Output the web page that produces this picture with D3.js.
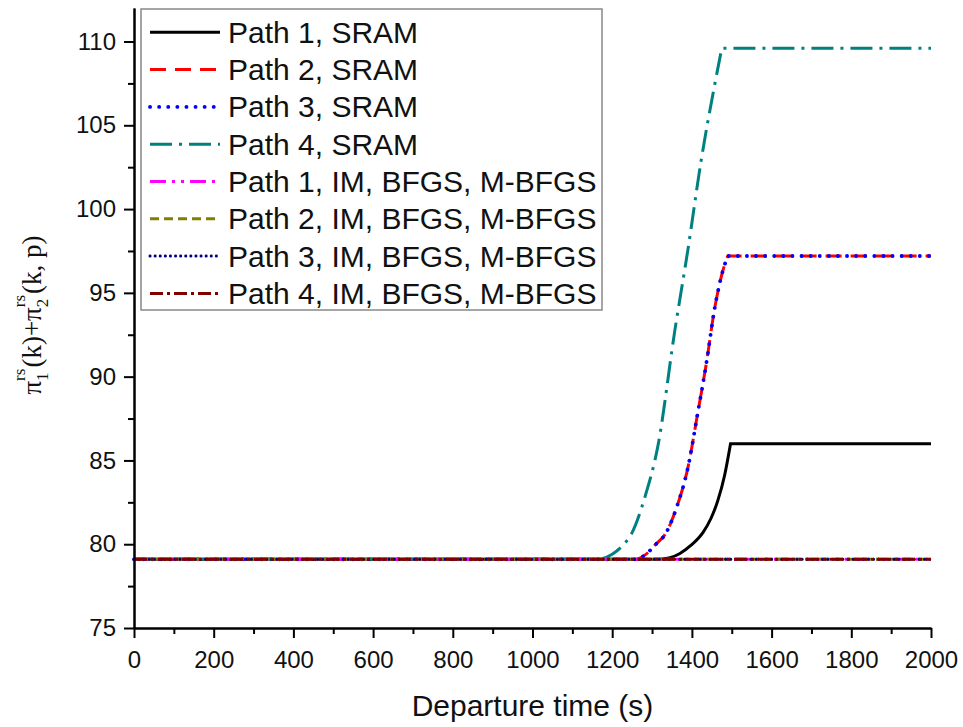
<!DOCTYPE html>
<html>
<head>
<meta charset="utf-8">
<script src="https://cdn.jsdelivr.net/npm/d3@7"></script>
<style>
  body { margin: 0; background: #fff; }
  svg { display: block; }
</style>
</head>
<body>
<div id="chart"></div>
<script>
// departure time (s) and path cost values
var path1Time = [0, 1310, 1345, 1370, 1398, 1428, 1448, 1465, 1482, 1497, 2000];
var path1Sram = [79.1, 79.1, 79.2, 79.45, 79.94, 80.71, 81.55, 82.6, 84.1, 86.0, 86.0];

var path2Time = [0, 1255, 1282, 1307, 1336, 1361, 1390, 1415, 1436, 1457, 1477, 1490, 2000];
var path2Sram = [79.1, 79.1, 79.35, 79.94, 80.71, 82.15, 84.57, 87.88, 90.75, 94.06, 96.26, 97.2, 97.2];
var path3Sram = [79.1, 79.1, 79.35, 79.94, 80.71, 82.15, 84.57, 87.88, 90.75, 94.06, 96.26, 97.2, 97.2];

var path4Time = [0, 1160, 1200, 1227, 1248, 1282, 1315, 1357, 1390, 1423, 1457, 1475, 2000];
var path4Sram = [79.1, 79.1, 79.4, 79.94, 80.6, 82.81, 85.9, 92.73, 97.58, 102.87, 107.4, 109.6, 109.6];

var imTime = [0, 2000];
var path1Im = [79.1, 79.1];
var path2Im = [79.1, 79.1];
var path3Im = [79.1, 79.1];
var path4Im = [79.1, 79.1];

var seriesNames = [
  "Path 1, SRAM", "Path 2, SRAM", "Path 3, SRAM", "Path 4, SRAM",
  "Path 1, IM, BFGS, M-BFGS", "Path 2, IM, BFGS, M-BFGS",
  "Path 3, IM, BFGS, M-BFGS", "Path 4, IM, BFGS, M-BFGS"
];
var xTicks = [0, 200, 400, 600, 800, 1000, 1200, 1400, 1600, 1800, 2000];
var yTicks = [75, 80, 85, 90, 95, 100, 105, 110];

var width = 963, height = 727;
var plotLeft = 134, plotRight = 931, plotTop = 8, plotBottom = 628;

var svg = d3.select("#chart")
  .append("svg")
    .attr("width", width)
    .attr("height", height);

var x = d3.scaleLinear().domain([0, 2000]).range([plotLeft, plotRight]);
var y = d3.scaleLinear().domain([75, 112]).range([plotBottom, plotTop]);

var styles = [
  {color: "#000000", dash: null, w: 3},
  {color: "#ff0000", dash: "16,9", w: 3},
  {color: "#0000ff", dash: "0.1,9", cap: "round", w: 3.8},
  {color: "#008080", dash: "22,7,3,7", w: 3},
  {color: "#ff00ff", dash: "16,6,3,6,3,6", w: 3},
  {color: "#808000", dash: "9,5", w: 3},
  {color: "#000080", dash: "0.1,5", cap: "round", w: 3},
  {color: "#800000", dash: "13,4,3,4", w: 3}
];

var series = [
  {t: path1Time, v: path1Sram},
  {t: path2Time, v: path2Sram},
  {t: path2Time, v: path3Sram},
  {t: path4Time, v: path4Sram},
  {t: imTime, v: path1Im},
  {t: imTime, v: path2Im},
  {t: imTime, v: path3Im},
  {t: imTime, v: path4Im}
];

var smooth = d3.line()
  .x(function(d) { return x(d[0]); })
  .y(function(d) { return y(d[1]); })
  .curve(d3.curveMonotoneX);

series.forEach(function(s, i) {
  var pts = s.t.map(function(t, j) { return [t, s.v[j]]; });
  var d;
  if (pts.length > 2) {
    // smooth rise up to the corner, then a straight plateau
    var last = pts[pts.length - 1];
    d = smooth(pts.slice(0, -1)) + "L" + x(last[0]) + "," + y(last[1]);
  } else {
    d = smooth(pts);
  }
  svg.append("path")
    .attr("d", d)
    .attr("fill", "none")
    .attr("stroke", styles[i].color)
    .attr("stroke-width", styles[i].w)
    .attr("stroke-linecap", styles[i].cap || "butt")
    .attr("stroke-dasharray", styles[i].dash);
});

// axes
svg.append("g")
  .attr("transform", "translate(0," + plotBottom + ")")
  .call(d3.axisBottom(x).tickValues(xTicks).tickFormat(d3.format("d"))
    .tickSize(10).tickPadding(13).tickSizeOuter(0));
svg.append("g")
  .attr("transform", "translate(0," + plotBottom + ")")
  .call(d3.axisBottom(x).tickValues(d3.range(100, 2000, 200)).tickSize(6).tickFormat("").tickSizeOuter(0));

svg.append("g")
  .attr("transform", "translate(" + plotLeft + ",0)")
  .call(d3.axisLeft(y).tickValues(yTicks).tickSize(10).tickPadding(8).tickSizeOuter(0));
svg.append("g")
  .attr("transform", "translate(" + plotLeft + ",0)")
  .call(d3.axisLeft(y).tickValues(d3.range(77.5, 112, 5)).tickSize(6).tickFormat("").tickSizeOuter(0));

svg.selectAll(".domain").attr("stroke", "#000").attr("stroke-width", 2);
svg.selectAll(".tick line").attr("stroke", "#000").attr("stroke-width", 2);
svg.selectAll(".tick text")
  .attr("font-family", "Liberation Sans, Arial, sans-serif")
  .attr("font-size", 24)
  .attr("fill", "#111");

// x title
svg.append("text")
  .attr("x", (plotLeft + plotRight) / 2)
  .attr("y", 716)
  .attr("text-anchor", "middle")
  .attr("font-family", "Liberation Sans, Arial, sans-serif")
  .attr("font-size", 30)
  .attr("fill", "#111")
  .text("Departure time (s)");

// y title, built piece by piece so sub and superscripts stack
var yt = svg.append("g").attr("transform", "translate(41,315) rotate(-90)");
var parts = [
  {main: "\u03c0", sub: "1", sup: "rs"},
  {main: "(k)+"},
  {main: "\u03c0", sub: "2", sup: "rs"},
  {main: "(k, p)"}
];
var cx = 0;
var serif = "Liberation Serif, Times New Roman, serif";
parts.forEach(function(p) {
  var t = yt.append("text").attr("x", cx).attr("y", 0)
    .attr("font-family", serif).attr("font-size", 27).attr("fill", "#111")
    .text(p.main);
  cx += t.node().getComputedTextLength();
  if (p.sub) {
    var a = yt.append("text").attr("x", cx).attr("y", 7)
      .attr("font-family", serif).attr("font-size", 17).attr("fill", "#111").text(p.sub);
    var b = yt.append("text").attr("x", cx).attr("y", -16)
      .attr("font-family", serif).attr("font-size", 17).attr("fill", "#111").text(p.sup);
    cx += Math.max(a.node().getComputedTextLength(), b.node().getComputedTextLength()) + 1;
  }
});
yt.selectAll("text").attr("transform", "translate(" + (-cx / 2) + ",0)");

// legend
var legend = svg.append("g");
legend.append("rect")
  .attr("x", 141).attr("y", 9)
  .attr("width", 461).attr("height", 301)
  .attr("fill", "#fff")
  .attr("stroke", "#888")
  .attr("stroke-width", 1.5);

seriesNames.forEach(function(name, i) {
  var ry = 32.3 + i * 37.3;
  legend.append("line")
    .attr("x1", 150).attr("x2", 220)
    .attr("y1", ry).attr("y2", ry)
    .attr("stroke", styles[i].color)
    .attr("stroke-width", styles[i].w)
    .attr("stroke-linecap", styles[i].cap || "butt")
    .attr("stroke-dasharray", styles[i].dash);
  legend.append("text")
    .attr("x", 228).attr("y", ry + 10.5)
    .attr("font-family", "Liberation Sans, Arial, sans-serif")
    .attr("font-size", 30)
    .attr("fill", "#111")
    .text(name);
});
</script>
</body>
</html>
